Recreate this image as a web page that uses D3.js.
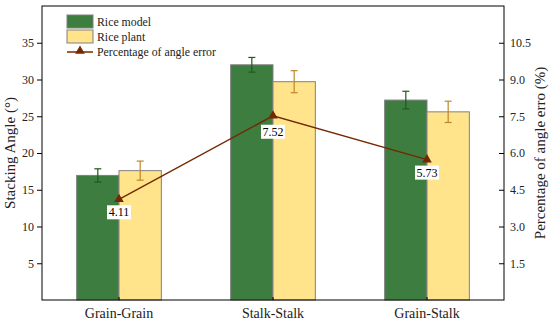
<!DOCTYPE html>
<html><head><meta charset="utf-8">
<script src="https://cdn.jsdelivr.net/npm/d3@7"></script>
<style>body{margin:0;background:#fff}svg{display:block}</style>
</head><body>
<script>
const categories = ["Grain-Grain", "Stalk-Stalk", "Grain-Stalk"];
const seriesNames = ["Rice model", "Rice plant"];
const riceModel = [16.95, 32.0, 27.2];
const riceModelErr = [0.9, 1.0, 1.2];
const ricePlant = [17.6, 29.7, 25.6];
const ricePlantErr = [1.3, 1.5, 1.45];
const angleError = [4.11, 7.52, 5.73];
const leftTicks = [5, 10, 15, 20, 25, 30, 35];
const rightTicks = [1.5, 3.0, 4.5, 6.0, 7.5, 9.0, 10.5];

const W = 550, H = 323;
const m = {l: 42, r: 504, t: 6, b: 300};
const FONT = "'Liberation Serif', 'Times New Roman', Times, 'DejaVu Serif', serif";
const svg = d3.select("body").append("svg").attr("width", W).attr("height", H);

const x = d3.scaleBand().domain(categories).range([m.l, m.r]).padding(0);
const groupW = x.bandwidth() * 0.55;
const x1 = d3.scaleBand().domain(seriesNames).range([-groupW/2, groupW/2]).padding(0);
const y = d3.scaleLinear().domain([0, 40]).range([m.b, m.t]);
const y2 = d3.scaleLinear().domain([0, 12]).range([m.b, m.t]);

const fills = ["#3e7d40", "#ffe48c"];
const errCols = ["#1e5a1e", "#c0862a"];
const vals = [riceModel, ricePlant];
const errs = [riceModelErr, ricePlantErr];

// bars
seriesNames.forEach((s, si) => {
  const g = svg.append("g");
  g.selectAll("rect").data(categories).join("rect")
    .attr("x", c => x(c) + x.bandwidth()/2 + x1(s))
    .attr("y", (c, i) => y(vals[si][i]))
    .attr("width", x1.bandwidth())
    .attr("height", (c, i) => y(0) - y(vals[si][i]))
    .attr("fill", fills[si]).attr("stroke", "#808080").attr("stroke-width", 1);
});
// error bars
seriesNames.forEach((s, si) => {
  categories.forEach((c, i) => {
    const cx = x(c) + x.bandwidth()/2 + x1(s) + x1.bandwidth()/2;
    const hi = y(vals[si][i] + errs[si][i]), lo = y(vals[si][i] - errs[si][i]);
    const g = svg.append("g").attr("stroke", errCols[si]).attr("stroke-width", 1.2);
    g.append("line").attr("x1", cx).attr("x2", cx).attr("y1", hi).attr("y2", lo);
    g.append("line").attr("x1", cx-3.5).attr("x2", cx+3.5).attr("y1", hi).attr("y2", hi);
    g.append("line").attr("x1", cx-3.5).attr("x2", cx+3.5).attr("y1", lo).attr("y2", lo);
  });
});

// line
const lineCol = "#742800";
const cxs = categories.map(c => x(c) + x.bandwidth()/2);
svg.append("path")
  .attr("d", d3.line().x((d, i) => cxs[i]).y(d => y2(d))(angleError))
  .attr("fill", "none").attr("stroke", lineCol).attr("stroke-width", 1.5);
const tri = d3.symbol().type(d3.symbolTriangle).size(40);
svg.selectAll(".mk").data(angleError).join("path")
  .attr("transform", (d, i) => `translate(${cxs[i]},${y2(d)})`)
  .attr("d", tri).attr("fill", lineCol);
// labels
angleError.forEach((d, i) => {
  const off = i === 1 ? 9 : 6;
  const g = svg.append("g").attr("transform", `translate(${cxs[i]},${y2(d) + off})`);
  g.append("rect").attr("x", -12).attr("y", 0).attr("width", 24).attr("height", 14).attr("fill", "#fff");
  g.append("text").attr("x", 0).attr("y", 11).attr("text-anchor", "middle").attr("font-size", 12).text(d.toFixed(2));
});

// axes
const fs = 12;
const ax = svg.append("g").attr("transform", `translate(${m.l},0)`)
  .call(d3.axisLeft(y).tickValues(leftTicks).tickSize(5).tickPadding(3).tickFormat(d3.format("d")));
const axR = svg.append("g").attr("transform", `translate(${m.r},0)`)
  .call(d3.axisRight(y2).tickValues(rightTicks).tickSize(-5).tickPadding(6).tickFormat(d3.format(".1f")));
const axB = svg.append("g").attr("transform", `translate(0,${m.b})`)
  .call(d3.axisBottom(x).tickSize(-3).tickPadding(8));
[ax, axR, axB].forEach(a => {
  a.select(".domain").remove();
  a.selectAll("line").attr("stroke", "#000");
  a.selectAll("text").attr("fill", "#222");
});
ax.selectAll("text").attr("font-size", fs);
axR.selectAll("text").attr("font-size", fs);
axB.selectAll("text").attr("font-size", 14).attr("dy", "0.71em");

// frame
svg.append("rect").attr("x", m.l).attr("y", m.t).attr("width", m.r - m.l).attr("height", m.b - m.t)
  .attr("fill", "none").attr("stroke", "#000").attr("stroke-width", 1);

// titles
svg.append("text").attr("transform", `translate(15,${(m.t+m.b)/2}) rotate(-90)`)
  .attr("text-anchor", "middle").attr("font-size", 15).attr("fill", "#222").text("Stacking Angle (°)");
svg.append("text").attr("transform", `translate(540,${(m.t+m.b)/2}) rotate(-90)`)
  .attr("text-anchor", "middle").attr("dy", "0.35em").attr("font-size", 15).attr("fill", "#222").text("Percentage of angle erro (%)");

// legend
const lg = svg.append("g");
const lx = 67;
lg.append("rect").attr("x", lx).attr("y", 15).attr("width", 26).attr("height", 13).attr("fill", fills[0]).attr("stroke", "#808080");
lg.append("rect").attr("x", lx).attr("y", 30).attr("width", 26).attr("height", 13).attr("fill", fills[1]).attr("stroke", "#808080");
lg.append("line").attr("x1", lx).attr("x2", lx + 26).attr("y1", 52).attr("y2", 52).attr("stroke", lineCol).attr("stroke-width", 1.5);
lg.append("path").attr("transform", `translate(${lx+13},51)`).attr("d", tri).attr("fill", lineCol);
const legTexts = [seriesNames[0], seriesNames[1], "Percentage of angle error"];
[26, 41, 56].forEach((yy, i) => {
  lg.append("text").attr("x", 97).attr("y", yy).attr("font-size", 11.8).attr("fill", "#222").text(legTexts[i]);
});

svg.selectAll("g").attr("font-family", null);
svg.selectAll("text").style("font-family", FONT);
</script>
</body></html>
